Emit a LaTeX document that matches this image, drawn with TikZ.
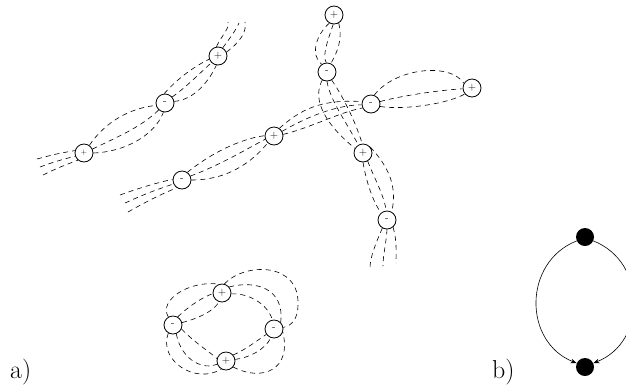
\documentclass[tikz,border=0pt]{standalone}
\usetikzlibrary{arrows.meta}
\begin{document}
\begin{tikzpicture}[x=1bp,y=-1bp,
  sgn/.style={circle,draw,line width=0.8bp,minimum size=18bp,inner sep=0pt,font=\fontsize{11}{11}\selectfont},
  sgnsmall/.style={sgn,font=\fontsize{7.5}{7.5}\selectfont},
  str/.style={line width=0.6bp,dash pattern=on 5bp off 4bp},
  dotnode/.style={circle,fill=black,minimum size=18bp,inner sep=0pt},
  flow/.style={line width=0.6bp,-{Stealth[length=6bp,width=4.5bp]}},
  lbl/.style={anchor=base west,inner sep=0pt,font=\fontsize{26}{30}\selectfont}]
\clip (0,0) rectangle (626,388);
% ---------- left chain
\node[sgnsmall] (n1) at (84,153) {+};
\node[sgn] (n2) at (165,103) {-};
\node[sgn] (n3) at (218,56) {+};
\coordinate (e1a) at (37,159);
\coordinate (e1b) at (40,167);
\coordinate (e1c) at (43,175);
\coordinate (t1) at (228,22);
\coordinate (t2) at (239,23);
\coordinate (t3) at (245,22);
\draw[str] (e1a) to[bend left=3] (n1.165);
\draw[str] (e1b) to[bend left=3] (n1.200);
\draw[str] (e1c) to[bend left=3] (n1.230);
\draw[str] (n1.55) .. controls (105,122) and (130,108) .. (n2.195);
\draw[str] (n1.25) .. controls (115,138) and (140,128) .. (n2.228);
\draw[str] (n1.0) .. controls (125,152) and (155,135) .. (n2.260);
\draw[str] (n2.95) .. controls (178,78) and (195,66) .. (n3.200);
\draw[str] (n2.40) .. controls (185,88) and (198,75) .. (n3.225);
\draw[str] (n2.10) .. controls (192,100) and (207,85) .. (n3.260);
\draw[str] (n3.100) .. controls (222,35) and (230,28) .. (t1);
\draw[str] (n3.60) .. controls (230,38) and (236,30) .. (t2);
\draw[str] (n3.25) .. controls (240,42) and (247,32) .. (t3);
% ---------- middle chain
\node[sgn] (m1) at (182,180) {-};
\node[sgn] (m2) at (274,136) {+};
\node[sgn] (m3) at (371,104) {-};
\node[sgn] (m4) at (472,88) {+};
\coordinate (f1) at (120,195);
\coordinate (f2) at (125,203);
\coordinate (f3) at (128,212);
\draw[str] (f1) to[bend left=3] (m1.175);
\draw[str] (f2) to[bend left=3] (m1.205);
\draw[str] (f3) to[bend left=3] (m1.235);
\draw[str] (m1.55) .. controls (215,150) and (245,138) .. (m2.178);
\draw[str] (m1.25) .. controls (220,165) and (245,150) .. (m2.200);
\draw[str] (m1.0) .. controls (228,180) and (252,162) .. (m2.228);
\draw[str] (m2.55) .. controls (300,110) and (320,99) .. (m3.165);
\draw[str] (m2.30) .. controls (305,118) and (335,105) .. (m3.185);
\draw[str] (m2.10) .. controls (310,128) and (340,112) .. (m3.205);
\draw[str] (m3.70) .. controls (395,68) and (450,62) .. (m4.150);
\draw[str] (m3.15) .. controls (400,96) and (440,90) .. (m4.185);
\draw[str] (m3.-15) .. controls (400,110) and (445,105) .. (m4.220);
% ---------- vertical chain
\node[sgn] (v1) at (334,15) {+};
\node[sgn] (v2) at (327,72) {-};
\node[sgn] (v3) at (363,153) {+};
\node[sgn] (v4) at (387,220) {-};
\coordinate (b1) at (370,268);
\coordinate (b2) at (383,266);
\coordinate (b3) at (396,263);
\draw[str] (v1.240) .. controls (316,35) and (310,55) .. (v2.125);
\draw[str] (v1.265) .. controls (328,40) and (322,55) .. (v2.95);
\draw[str] (v1.300) .. controls (343,40) and (337,52) .. (v2.65);
\draw[str] (v2.240) .. controls (314,95) and (318,118) .. (v3.150);
\draw[str] (v2.270) .. controls (330,100) and (345,120) .. (v3.120);
\draw[str] (v2.300) .. controls (342,95) and (355,120) .. (v3.95);
\draw[str] (v3.270) .. controls (366,180) and (372,200) .. (v4.130);
\draw[str] (v3.300) .. controls (375,180) and (384,195) .. (v4.95);
\draw[str] (v3.40) .. controls (387,165) and (398,185) .. (v4.60);
\draw[str] (v4.240) .. controls (375,245) and (370,258) .. (b1);
\draw[str] (v4.270) .. controls (386,245) and (383,255) .. (b2);
\draw[str] (v4.310) .. controls (397,240) and (396,252) .. (b3);
% ---------- ring
\node[sgn] (r1) at (222,293) {+};
\node[sgn] (r2) at (173,325) {-};
\node[sgn] (r3) at (274,329) {-};
\node[sgn] (r4) at (226,361) {+};
\draw[str] (r2.60) .. controls (190,305) and (205,296) .. (r1.185);
\draw[str] (r2.15) .. controls (200,318) and (215,310) .. (r1.250);
\draw[str] (r2.120) .. controls (158,300) and (190,280) .. (r1.110);
\draw[str] (r1.-5) .. controls (250,293) and (268,305) .. (r3.100);
\draw[str] (r1.40) .. controls (255,280) and (285,288) .. (r3.45);
\draw[str] (r1.75) .. controls (245,262) and (300,262) .. (298,305)
   .. controls (298,318) and (292,326) .. (r3.10);
\draw[str] (r2.-25) .. controls (195,343) and (210,352) .. (r4.165);
\draw[str] (r2.-70) .. controls (182,362) and (205,370) .. (r4.200);
\draw[str] (r2.-120) .. controls (158,360) and (195,385) .. (r4.240);
\draw[str] (r4.40) .. controls (245,350) and (258,340) .. (r3.215);
\draw[str] (r4.10) .. controls (248,358) and (265,350) .. (r3.250);
\draw[str] (r4.-40) .. controls (262,382) and (292,370) .. (r3.-20);
% ---------- b)
\node[dotnode] (top) at (585,237) {};
\node[dotnode] (bot) at (585,367) {};
\draw[flow] (top.205) .. controls (523,262) and (523,342) .. (bot.155);
\draw[flow] (top.-25) .. controls (647,262) and (647,342) .. (bot.25);
% ---------- labels
\node[lbl] (la) at (10,378) {a)};
\node[lbl] (lb) at (492,378) {b)};
\end{tikzpicture}
\end{document}
